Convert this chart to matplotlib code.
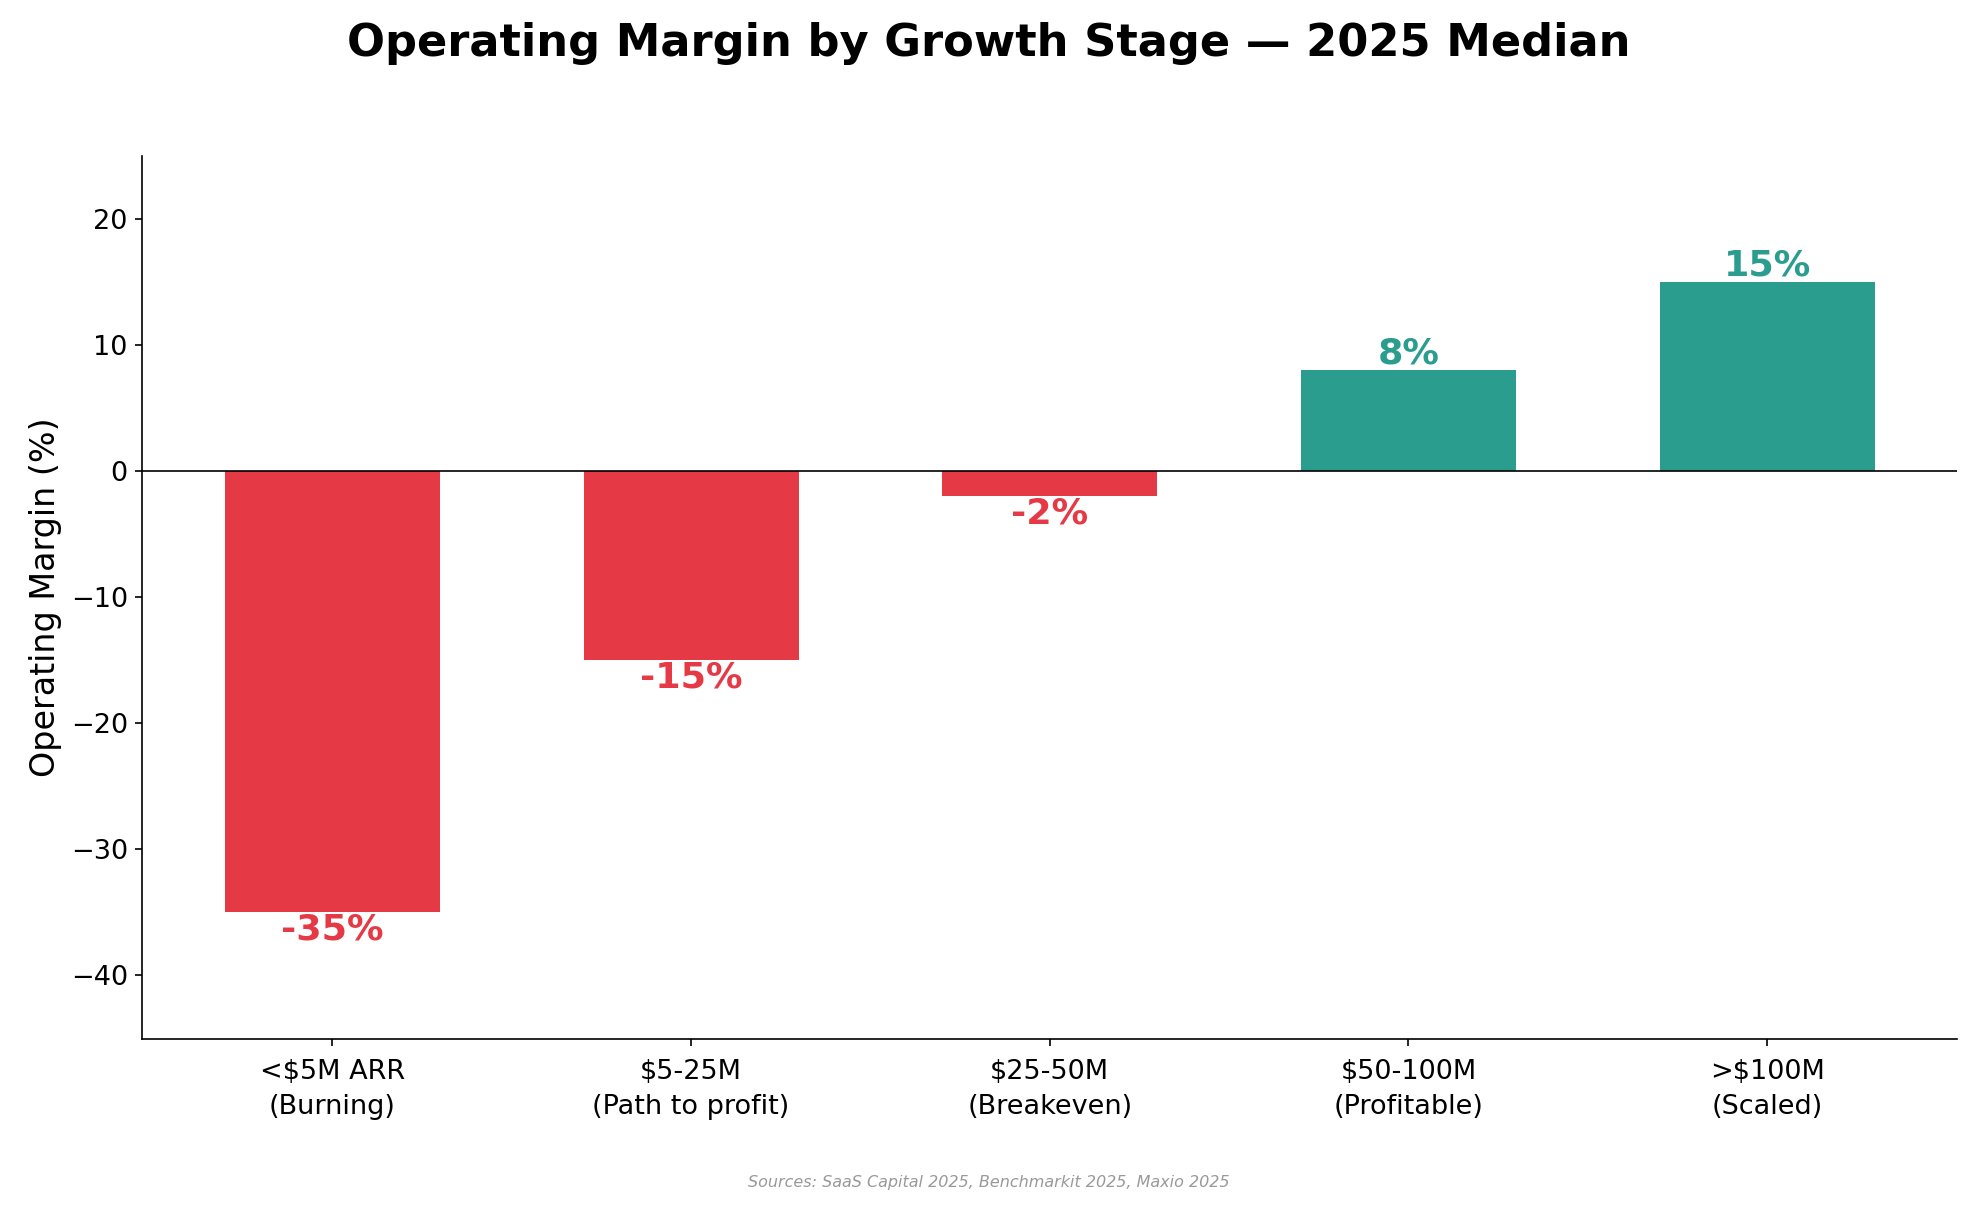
import matplotlib.pyplot as plt

# data
stages = ['<$5M ARR\n(Burning)', '$5-25M\n(Path to profit)', '$25-50M\n(Breakeven)',
          '$50-100M\n(Profitable)', '>$100M\n(Scaled)']
margins = [-35, -15, -2, 8, 15]

RED = '#E63946'
TEAL = '#2A9D8F'
colors = [RED if m < 0 else TEAL for m in margins]

fig = plt.figure(figsize=(13.18, 8.06), dpi=150)
ax = fig.add_axes([0.072, 0.141, 0.918, 0.73])

x = range(len(stages))
bars = ax.bar(x, margins, width=0.6, color=colors)
ax.axhline(0, color='black', linewidth=0.8)

# value labels
for b, m, c in zip(bars, margins, colors):
    xc = b.get_x() + b.get_width() / 2
    if m >= 0:
        ax.text(xc, m, f'{m}%', ha='center', va='bottom',
                fontsize=17.5, fontweight='bold', color=c)
    else:
        ax.text(xc, m, f'{m}%', ha='center', va='top',
                fontsize=17.5, fontweight='bold', color=c)

ax.set_xticks(list(x))
ax.set_xticklabels(stages, fontsize=13, linespacing=1.45)
ax.tick_params(axis='x', pad=6.5)
ax.tick_params(axis='y', labelsize=13)
ax.set_ylim(-45, 25)
ax.set_ylabel('Operating Margin (%)', fontsize=16)
ax.spines['top'].set_visible(False)
ax.spines['right'].set_visible(False)

fig.suptitle('Operating Margin by Growth Stage — 2025 Median',
             fontsize=21.5, fontweight='bold', y=0.982)
fig.text(0.5, 0.018, 'Sources: SaaS Capital 2025, Benchmarkit 2025, Maxio 2025',
         ha='center', fontsize=7.7, style='italic', color='#999999')

fig.savefig('out.png', dpi=150)
